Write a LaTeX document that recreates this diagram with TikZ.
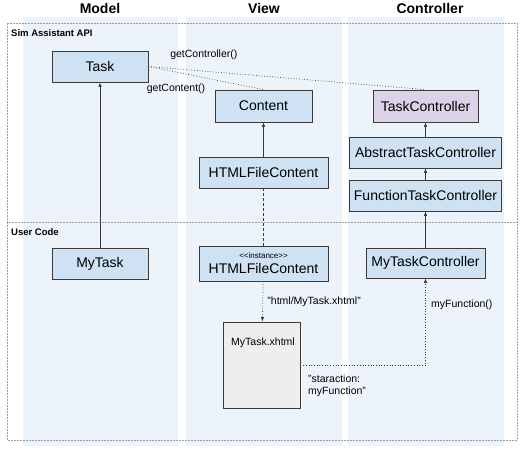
\documentclass[tikz,border=0pt]{standalone}
\usepackage{fontspec}
\setmainfont{Liberation Sans}
\usetikzlibrary{arrows.meta,positioning}
\definecolor{lanebg}{HTML}{EDF3FA}
\definecolor{clsblue}{HTML}{CFE2F3}
\definecolor{clspurple}{HTML}{DDD3E8}
\definecolor{pagegray}{HTML}{EEEEEE}
\definecolor{edgegray}{HTML}{3A3A3A}
\tikzset{cls/.style={draw=edgegray,line width=0.8pt,fill=clsblue,align=center,inner sep=2pt,
    minimum height=31pt,font=\fontsize{14}{16}\selectfont},
  iface/.style={cls,fill=clspurple},
  page/.style={draw=edgegray,line width=0.8pt,fill=pagegray},
  head/.style={font=\bfseries\fontsize{14}{16}\selectfont},
  regname/.style={font=\bfseries\fontsize{9.5}{11}\selectfont,anchor=west,inner sep=1pt},
  region/.style={draw=gray!75,line width=0.6pt,dash pattern=on 2pt off 1pt},
  lbl/.style={font=\fontsize{10.5}{12}\selectfont,align=left,text=black},
  arr/.style={-{Latex[length=4.5pt,width=3.5pt]},edgegray,line width=0.7pt}}

\begin{document}
\begin{tikzpicture}[x=1pt,y=-1pt]
\useasboundingbox (0,0) rectangle (524,450);
% lanes
\foreach \xa/\xb in {23/178,186/342,348/504}
  \fill[lanebg] (\xa,17) rectangle (\xb,446);
\node[head] (model) at (100,8) {Model};
\node[head] (view) at (264,8) {View};
\node[head] (controller) at (430,8) {Controller};
% regions
\draw[region] (7,23) rectangle (517,222);
\draw[region] (7,222) rectangle (517,440);
\node[regname] (api) at (10,33) {Sim Assistant API};
\node[regname] (user) at (10,232) {User Code};

% api classes
\node[cls,minimum width=96pt] (task) at (100,66.5) {Task};
\node[cls,minimum width=97pt,minimum height=32pt] (content) at (263.5,106) {Content};
\node[cls,minimum width=129pt] (htmlfc) at (263.5,172.5) {HTMLFileContent};
\node[iface,minimum width=105pt,minimum height=32pt] (taskctl) at (425.5,106) {TaskController};
\node[cls,minimum width=152pt] (abstractctl) at (425.5,152.5) {AbstractTaskController};
\node[cls,minimum width=152pt] (functionctl) at (425.5,195.5) {FunctionTaskController};

% user code
\node[cls,minimum width=96pt] (mytask) at (100,263.5) {MyTask};
\node[cls,minimum width=129pt,minimum height=35pt,inner sep=1pt] (htmlinst) at (263.5,263.5)
  {{\fontsize{8}{8}\selectfont <\kern0pt<instance>\kern0pt>}\\[-1pt]HTMLFileContent};
\node[cls,minimum width=119pt,minimum height=30pt] (mytaskctl) at (425.5,263) {MyTaskController};
\node[page,minimum width=77pt,minimum height=86pt] (xhtml) at (261.5,365) {};
\node[lbl,anchor=west,inner sep=0pt] (xhtmlname) at (231,343) {MyTask.xhtml};

% connectors
\draw[edgegray,line width=0.7pt,dotted] (task.east) -- (taskctl.north)
  node[lbl,pos=0.2,above=8pt] {getController()};
\draw[edgegray,line width=0.7pt,dotted] (task.east) -- (content.north)
  node[lbl,pos=0.24,below=8pt] {getContent()};
\draw[arr] (mytask) -- (task);
\draw[arr] (htmlfc) -- (content);
\draw[arr] (abstractctl) -- (taskctl);
\draw[arr] (functionctl) -- (abstractctl);
\draw[arr] (mytaskctl) -- (functionctl);
\draw[edgegray,line width=0.7pt,dash pattern=on 3pt off 2pt] (htmlfc) -- (htmlinst);
\draw[arr,dotted] (htmlinst) -- (xhtml)
  node[lbl,midway,right=1pt] {"html/MyTask.xhtml"};
\draw[arr,dotted] (xhtml.east) -| (mytaskctl.south)
  node[lbl,pos=0.85,right=2pt] {myFunction()};
\node[lbl,anchor=west,inner sep=0pt] (staraction) at (308,386) {"staraction:\\ myFunction"};
\end{tikzpicture}
\end{document}
